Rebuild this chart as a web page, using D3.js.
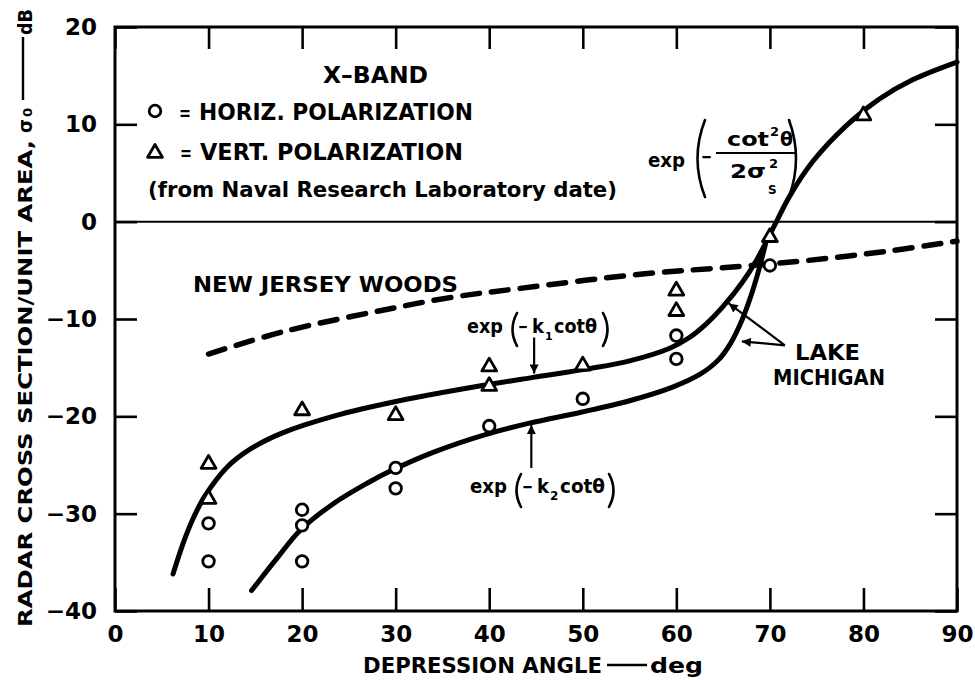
<!DOCTYPE html>
<html>
<head>
<meta charset="utf-8">
<script src="https://cdn.jsdelivr.net/npm/d3@7"></script>
<style>
  body { margin: 0; background: #fff; }
  svg { display: block; }
  text { font-family: "DejaVu Sans", sans-serif; font-weight: bold; fill: #000; }
</style>
</head>
<body>
<svg id="chart" width="975" height="680"></svg>
<script>
// axis ticks
const xTicks = [0, 10, 20, 30, 40, 50, 60, 70, 80, 90];
const yTicks = [-40, -30, -20, -10, 0, 10, 20];

// measured points, horizontal polarization (circles)
const horizAngle = [10, 10, 20, 20, 20, 30, 30, 40, 50, 60, 60, 70];
const horizSigma = [-31.0, -34.9, -29.6, -31.2, -34.9, -25.3, -27.4, -21.0, -18.2, -11.7, -14.1, -4.5];

// measured points, vertical polarization (triangles)
const vertAngle = [10, 10, 20, 30, 40, 40, 50, 60, 60, 70, 80];
const vertSigma = [-24.9, -28.5, -19.4, -19.9, -14.9, -16.9, -14.8, -7.1, -9.2, -1.6, 10.9];

// Lake Michigan, upper curve exp(-k1 cot) running into exp(-cot^2/2s^2)
const upperAngle = [6.2, 7.3, 8.3, 9.6, 12, 14.4, 17.9, 23.3, 30.4, 39.5, 44.7, 50.7, 55, 59.3, 61.4, 63.2, 65, 67, 68.6, 70.7, 72.1, 74.6, 78.2, 81.7, 85.3, 90];
const upperSigma = [-36.2, -33.0, -30.6, -28.2, -25.2, -23.4, -21.7, -20.0, -18.4, -16.8, -16.0, -15.1, -14.3, -13.0, -11.9, -10.5, -8.7, -6.3, -3.9, 0, 2.6, 6.2, 9.9, 12.6, 14.6, 16.4];

// Lake Michigan, lower curve exp(-k2 cot)
const lowerAngle = [14.6, 17.3, 19.8, 23.3, 26.9, 29.7, 34, 39.5, 44.3, 49.7, 55, 59.6, 62.5, 64.5, 65.8, 66.8, 67.7, 68.6, 69.5];
const lowerSigma = [-37.9, -34.6, -31.7, -29.0, -26.9, -25.5, -23.7, -21.9, -20.7, -19.6, -18.4, -17.0, -15.7, -14.2, -12.5, -10.6, -8.4, -5.7, -2.4];

// New Jersey woods (dashed)
const woodsAngle = [10, 18, 28.6, 35.8, 42.9, 56.1, 66.8, 73.9, 82.8, 90];
const woodsSigma = [-13.6, -11.3, -9.1, -7.8, -6.9, -5.4, -4.6, -4.0, -3.0, -2.0];

const svg = d3.select('#chart');
const x = d3.scaleLinear().domain([0, 90]).range([115, 957]);
const y = d3.scaleLinear().domain([-40, 20]).range([611, 27]);

const defs = svg.append('defs');
defs.append('marker')
  .attr('id', 'ah')
  .attr('viewBox', '0 0 10 10')
  .attr('refX', 10).attr('refY', 5)
  .attr('markerWidth', 12).attr('markerHeight', 9)
  .attr('markerUnits', 'userSpaceOnUse')
  .attr('orient', 'auto')
  .append('path').attr('d', 'M0,0L10,5L0,10Z').attr('fill', '#000');

// helpers
function txt(str, tx, ty, size, len) {
  const t = svg.append('text').attr('x', tx).attr('y', ty).attr('font-size', size).text(str);
  if (len) t.attr('textLength', len).attr('lengthAdjust', 'spacingAndGlyphs');
  return t;
}
function paren(px, y0, y1, bulge) {
  svg.append('path')
    .attr('d', `M${px},${y0}Q${px + bulge},${(y0 + y1) / 2} ${px},${y1}`)
    .attr('fill', 'none').attr('stroke', '#000').attr('stroke-width', 2.6)
    .attr('stroke-linecap', 'round');
}
function arrow(a0, s0, a1, s1) {
  svg.append('line')
    .attr('x1', x(a0)).attr('y1', y(s0)).attr('x2', x(a1)).attr('y2', y(s1))
    .attr('stroke', '#000').attr('stroke-width', 2.2)
    .attr('marker-end', 'url(#ah)');
}

// frame + zero line
svg.append('rect')
  .attr('x', x(0)).attr('y', y(20))
  .attr('width', x(90) - x(0)).attr('height', y(-40) - y(20))
  .attr('fill', 'none').attr('stroke', '#000').attr('stroke-width', 3);

svg.append('line')
  .attr('x1', x(0)).attr('x2', x(90)).attr('y1', y(0)).attr('y2', y(0))
  .attr('stroke', '#000').attr('stroke-width', 2);

// axes (inside ticks)
function styleAxis(g, size) {
  g.select('.domain').remove();
  g.selectAll('.tick line').attr('stroke', '#000').attr('stroke-width', 2.6);
  g.selectAll('.tick text').attr('font-size', size).attr('font-family', null).attr('fill', '#000');
}
svg.append('g').attr('transform', `translate(0,${y(-40)})`)
  .call(d3.axisBottom(x).tickValues(xTicks).tickSizeInner(-23).tickSizeOuter(0).tickPadding(15))
  .call(g => styleAxis(g, 23));
svg.append('g').attr('transform', `translate(0,${y(20)})`)
  .call(d3.axisTop(x).tickValues(xTicks).tickSizeInner(-22).tickSizeOuter(0).tickFormat(''))
  .call(g => styleAxis(g, 23));
svg.append('g').attr('transform', `translate(${x(0)},0)`)
  .call(d3.axisLeft(y).tickValues(yTicks).tickSizeInner(-22).tickSizeOuter(0).tickPadding(18))
  .call(g => styleAxis(g, 23));
svg.append('g').attr('transform', `translate(${x(90)},0)`)
  .call(d3.axisRight(y).tickValues(yTicks).tickSizeInner(-22).tickSizeOuter(0).tickFormat(''))
  .call(g => styleAxis(g, 23));

// curves
const line = d3.line().x(d => x(d[0])).y(d => y(d[1])).curve(d3.curveCatmullRom.alpha(0.5));
svg.append('path')
  .attr('d', line(d3.zip(woodsAngle, woodsSigma)))
  .attr('fill', 'none').attr('stroke', '#000').attr('stroke-width', 5.5)
  .attr('stroke-dasharray', '17,12').attr('stroke-linecap', 'round');
svg.append('path')
  .attr('d', line(d3.zip(upperAngle, upperSigma)))
  .attr('fill', 'none').attr('stroke', '#000').attr('stroke-width', 5)
  .attr('stroke-linecap', 'round');
svg.append('path')
  .attr('d', line(d3.zip(lowerAngle, lowerSigma)))
  .attr('fill', 'none').attr('stroke', '#000').attr('stroke-width', 5)
  .attr('stroke-linecap', 'round');

// markers
const tri = d3.symbol(d3.symbolTriangle, 95);
svg.append('g').selectAll('circle')
  .data(d3.zip(horizAngle, horizSigma))
  .join('circle')
  .attr('cx', d => x(d[0])).attr('cy', d => y(d[1])).attr('r', 5.8)
  .attr('fill', '#fff').attr('stroke', '#000').attr('stroke-width', 2.8);
svg.append('g').selectAll('path')
  .data(d3.zip(vertAngle, vertSigma))
  .join('path')
  .attr('d', tri)
  .attr('transform', d => `translate(${x(d[0])},${y(d[1])})`)
  .attr('fill', '#fff').attr('stroke', '#000').attr('stroke-width', 2.8)
  .attr('stroke-linejoin', 'round');

// legend
txt('X\u2013BAND', 323, 83, 23, 105);
svg.append('circle').attr('cx', 155).attr('cy', 111).attr('r', 5.8)
  .attr('fill', '#fff').attr('stroke', '#000').attr('stroke-width', 2.8);
txt('=', 179, 120, 20, 12);
txt('HORIZ. POLARIZATION', 199, 120, 23, 274);
svg.append('path').attr('d', tri).attr('transform', 'translate(155,153)')
  .attr('fill', '#fff').attr('stroke', '#000').attr('stroke-width', 2.8).attr('stroke-linejoin', 'round');
txt('=', 180, 160, 20, 12);
txt('VERT. POLARIZATION', 200, 160, 23, 263);
txt('(from Naval Research Laboratory date)', 148, 197, 21, 469);

txt('NEW JERSEY WOODS', 193, 292, 21, 265);
txt('LAKE', 795, 360, 21, 65);
txt('MICHIGAN', 773, 385, 21, 112);

// formula: exp(-k1 cot theta)
txt('exp', 467, 333, 19, 36);
paren(517, 313, 346, -9);
txt('\u2212', 518, 333, 19, 10);
txt('k', 532, 333, 19, 12);
txt('1', 545, 340, 11);
txt('cot\u03b8', 554, 333, 19, 43);
paren(603, 313, 346, 9);
arrow(44.8, -11.9, 44.8, -15.6);

// formula: exp(-k2 cot theta)
txt('exp', 470, 493, 19, 37);
paren(521, 474, 507, -9);
txt('\u2212', 522, 493, 19, 11);
txt('k', 537, 493, 19, 12);
txt('2', 550, 500, 12);
txt('cot\u03b8', 560, 493, 19, 45);
paren(609, 474, 507, 9);
arrow(44.5, -25.3, 44.5, -20.9);

// formula: exp(-cot^2 theta / 2 sigma_s^2)
txt('exp', 648, 167, 19, 37);
paren(705, 120, 197, -15);
txt('\u2212', 701, 163, 18, 11);
txt('cot', 727, 146, 19, 42);
txt('2', 770, 136, 13);
txt('\u03b8', 780, 146, 19, 13);
svg.append('line').attr('x1', 716).attr('x2', 796).attr('y1', 153).attr('y2', 153)
  .attr('stroke', '#000').attr('stroke-width', 2);
txt('2\u03c3', 730, 178, 20, 36);
txt('2', 769, 168, 13);
txt('S', 768, 194, 12);
paren(789, 120, 197, 14);

// Lake Michigan arrows
arrow(71.6, -12.7, 65.6, -8.4);
arrow(71.6, -12.7, 67.0, -12.3);

// x axis title
txt('DEPRESSION ANGLE', 363, 673, 22, 239);
svg.append('line').attr('x1', 607).attr('x2', 647).attr('y1', 665).attr('y2', 665)
  .attr('stroke', '#000').attr('stroke-width', 2.4);
txt('deg', 650, 673, 22, 53);

// y axis title (rotated)
const yl = svg.append('g').attr('transform', 'translate(32,0) rotate(-90)');
yl.append('text').attr('x', -627).attr('y', 0).attr('font-size', 20)
  .attr('textLength', 487).attr('lengthAdjust', 'spacingAndGlyphs')
  .text('RADAR  CROSS  SECTION/UNIT  AREA,');
yl.append('text').attr('x', -133).attr('y', 0).attr('font-size', 20)
  .attr('textLength', 14).attr('lengthAdjust', 'spacingAndGlyphs').text('\u03c3');
yl.append('text').attr('x', -117).attr('y', 0).attr('font-size', 13).text('0');
yl.append('line').attr('x1', -100).attr('x2', -37).attr('y1', -9).attr('y2', -9)
  .attr('stroke', '#000').attr('stroke-width', 2.4);
yl.append('text').attr('x', -35).attr('y', 0).attr('font-size', 20)
  .attr('textLength', 26).attr('lengthAdjust', 'spacingAndGlyphs').text('dB');
</script>
</body>
</html>
